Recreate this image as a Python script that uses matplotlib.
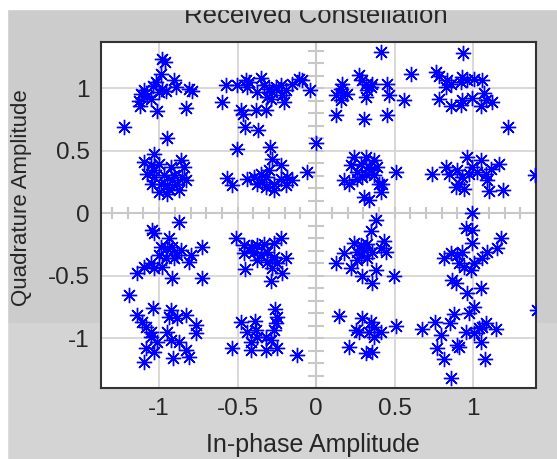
import numpy as np
import matplotlib
matplotlib.use("Agg")
import matplotlib.pyplot as plt
from matplotlib.patches import Rectangle
from matplotlib.markers import MarkerStyle

plt.rcParams['font.family'] = ['Liberation Sans', 'DejaVu Sans']
plt.rcParams['axes.unicode_minus'] = False

# received symbols, grouped by quadrant
# upper left (clusters at -1+1j, -0.3+1j, -1+0.3j, -0.3+0.3j)
ul_i = [-0.98, -0.96, -0.99, -1.02, -1.04, -0.905, -0.89, -0.81, -0.79, -1.097, -1.114,
        -1.075, -1.13, -1.122, -1.012, -0.831, -0.98, -0.958, -1.0, -1.054, -1.224, -0.948,
        -0.576, -0.598, -0.502, -0.449, -0.438, -0.428, -0.354, -0.332, -0.375, -0.3, -0.279,
        -0.258, -0.226, -0.194, -0.215, -0.29, -0.205, -0.152, -0.109, -0.088, -0.039, -0.481,
        -0.464, -0.385, -0.322, -0.455, -0.37, -0.31,
        -1.033, -1.097, -1.054, -1.0, -0.927, -0.863, -0.842, -1.075, -1.033, -0.969, -0.906,
        -0.852, -0.831, -1.044, -0.99, -0.948, -0.884, -1.0, -0.948, -0.937, -0.874, -1.033, -0.916,
        -0.502, -0.294, -0.279, -0.226, -0.57, -0.534, -0.438, -0.396, -0.354, -0.322, -0.375,
        -0.322, -0.269, -0.226, -0.184, -0.152, -0.194, -0.269, -0.06, -0.3, -0.343, -0.003]
ul_q = [1.23, 1.21, 1.117, 1.05, 1.02, 1.064, 1.01, 0.997, 0.98, 0.984, 0.952,
        0.936, 0.899, 0.856, 0.819, 0.845, 0.997, 0.979, 0.97, 0.917, 0.691, 0.605,
        1.024, 0.891, 1.024, 1.064, 1.011, 1.051, 1.085, 1.024, 0.971, 0.997, 0.971,
        1.011, 1.024, 0.984, 0.944, 0.917, 0.891, 1.037, 1.077, 1.069, 0.984, 0.824,
        0.797, 0.824, 0.829, 0.691, 0.669, 0.931,
        0.477, 0.411, 0.384, 0.397, 0.371, 0.424, 0.371, 0.317, 0.291, 0.304, 0.304,
        0.291, 0.269, 0.237, 0.237, 0.224, 0.237, 0.171, 0.157, 0.197, 0.184, 0.344, 0.264,
        0.517, 0.531, 0.437, 0.384, 0.285, 0.224, 0.277, 0.291, 0.317, 0.291, 0.237,
        0.211, 0.237, 0.277, 0.291, 0.264, 0.224, 0.184, 0.331, 0.344, 0.251, 0.563]

# upper right
ur_i = [0.411, 0.602, 0.273, 0.294, 0.315, 0.358, 0.449, 0.167, 0.156, 0.124, 0.167,
        0.199, 0.156, 0.315, 0.326, 0.464, 0.559, 0.124, 0.305, 0.453, 0.347,
        0.937, 0.761, 0.782, 0.835, 0.857, 0.825, 0.931, 0.963, 1.005, 1.058, 0.92,
        0.782, 0.857, 0.92, 0.931, 0.995, 1.069, 1.08, 1.048, 1.122, 1.224,
        0.241, 0.315, 0.368, 0.22, 0.284, 0.337, 0.39, 0.262, 0.315, 0.368, 0.177,
        0.209, 0.262, 0.4, 0.421, 0.411, 0.305, 0.337, 0.506, 0.347, 0.294,
        0.959, 0.74, 0.825, 0.846, 0.899, 0.931, 0.91, 0.942, 0.889, 0.995, 1.048,
        1.027, 1.08, 1.112, 1.165, 1.09, 1.1, 1.192, 1.392, 0.974, 0.995]
ur_q = [1.291, 1.117, 1.104, 1.064, 1.037, 1.037, 1.032, 1.037, 0.997, 0.944, 0.944,
        0.952, 0.909, 0.931, 0.984, 0.944, 0.909, 0.784, 0.757, 0.784, 1.011,
        1.283, 1.131, 1.096, 1.064, 1.037, 1.011, 1.091, 1.069, 1.077, 1.064, 1.051,
        0.917, 0.856, 0.864, 0.909, 0.925, 0.963, 0.904, 0.856, 0.891, 0.691,
        0.451, 0.451, 0.424, 0.384, 0.397, 0.371, 0.371, 0.331, 0.317, 0.304, 0.264,
        0.237, 0.277, 0.237, 0.237, 0.171, 0.131, 0.104, 0.331, 0.344, 0.291,
        0.451, 0.317, 0.371, 0.317, 0.344, 0.291, 0.237, 0.197, 0.211, 0.371, 0.424,
        0.331, 0.317, 0.357, 0.397, 0.264, 0.179, 0.189, 0.304, 0.317, 0.003]

# lower left
ll_i = [-0.874, -1.044, -1.033, -0.937, -0.725, -0.99, -0.948, -0.916, -0.863, -0.799, -0.81,
        -1.0, -0.959, -0.906, -1.054, -1.097, -1.139, -1.033, -0.98, -0.916, -0.725, -1.192, -0.884,
        -0.513, -0.226, -0.46, -0.417, -0.375, -0.332, -0.269, -0.46, -0.396, -0.353, -0.311,
        -0.269, -0.375, -0.311, -0.247, -0.194, -0.215, -0.455, -0.286, -0.407, -0.279,
        -1.037, -1.143, -0.927, -0.937, -0.884, -0.831, -1.107, -1.086, -0.767, -0.767, -1.054,
        -1.054, -0.948, -1.012, -0.927, -0.874, -1.086, -0.831, -0.81, -0.91, -1.097, -1.033,
        -0.264, -0.247, -0.481, -0.392, -0.438, -0.385, -0.322, -0.269, -0.258, -0.29, -0.417,
        -0.534, -0.417, -0.322, -0.252, -0.124, -0.375]
ll_q = [-0.075, -0.136, -0.163, -0.203, -0.269, -0.269, -0.283, -0.269, -0.296, -0.336, -0.389,
        -0.336, -0.363, -0.363, -0.403, -0.429, -0.483, -0.443, -0.429, -0.517, -0.517, -0.656, -0.336,
        -0.203, -0.203, -0.256, -0.269, -0.256, -0.251, -0.243, -0.323, -0.309, -0.336, -0.309,
        -0.349, -0.376, -0.389, -0.403, -0.363, -0.483, -0.448, -0.544, -0.283, -0.443,
        -0.757, -0.816, -0.776, -0.829, -0.843, -0.816, -0.869, -0.909, -0.896, -0.963, -0.949,
        -0.989, -0.949, -1.029, -1.016, -1.029, -1.083, -1.096, -1.149, -1.157, -1.195, -1.109,
        -0.768, -0.829, -0.875, -0.864, -0.949, -0.936, -0.989, -0.936, -0.883, -1.016, -1.029,
        -1.083, -1.096, -1.096, -1.083, -1.136, -0.989]

# lower right
lr_i = [0.379, 0.347, 0.241, 0.284, 0.326, 0.432, 0.177, 0.262, 0.305, 0.358, 0.443,
        0.124, 0.22, 0.262, 0.326, 0.379, 0.294, 0.358, 0.496, 0.411, 0.284,
        0.952, 0.995, 0.995, 1.18, 1.154, 1.09, 1.058, 0.814, 0.857, 0.899, 0.931,
        0.91, 0.942, 0.984, 1.005, 0.867, 0.889, 0.963, 1.048, 1.005, 0.974, 0.878,
        0.145, 0.294, 0.347, 0.252, 0.273, 0.368, 0.411, 0.368, 0.506, 0.209, 0.315, 0.358, 0.337,
        0.672, 0.755, 0.852, 0.793, 0.952, 1.037, 1.058, 1.143, 1.08, 1.048, 0.91,
        0.767, 0.814, 1.073, 0.857, 1.404, 0.899, 1.005]
lr_q = [-0.056, -0.144, -0.243, -0.256, -0.251, -0.224, -0.323, -0.309, -0.296, -0.309, -0.309,
        -0.403, -0.443, -0.376, -0.363, -0.456, -0.501, -0.563, -0.501, -0.283, -0.336,
        -0.123, -0.136, -0.243, -0.197, -0.283, -0.309, -0.363, -0.363, -0.323, -0.336, -0.309,
        -0.403, -0.429, -0.456, -0.403, -0.536, -0.563, -0.643, -0.603, -0.749, -0.803, -0.811,
        -0.821, -0.843, -0.869, -0.936, -0.949, -0.909, -0.949, -0.989, -0.901, -1.069, -1.123, -1.109, -0.949,
        -0.928, -0.869, -0.883, -0.976, -0.955, -0.923, -0.909, -0.928, -0.883, -1.029, -1.069,
        -1.083, -1.168, -1.168, -1.317, -0.776, -1.056, -0.963]

tick_vals = [-1, -0.5, 0, 0.5, 1]
tick_text = ['-1', '-0.5', '0', '0.5', '1']

fig = plt.figure(figsize=(5.57, 4.59), dpi=100, facecolor='#cccccc')
# lighter patch of the screenshot at the bottom, white border at top/left
fig.add_artist(Rectangle((0, 0), 1, 1 - 323 / 459, transform=fig.transFigure,
                         color='#d4d4d4', zorder=-5))
ax = fig.add_axes([101 / 557, 1 - 388 / 459, 435 / 557, 346 / 459])
ax.set_facecolor('white')

i_all = np.concatenate([ul_i, ur_i, ll_i, lr_i])
q_all = np.concatenate([ul_q, ur_q, ll_q, lr_q])
ax.plot(i_all, q_all, linestyle='none', marker=MarkerStyle((8, 2, 0)),
        markersize=11, markeredgewidth=1.0, color='#0000ff', zorder=5)

ax.set_xlim(-1.37, 1.40)
ax.set_ylim(-1.40, 1.37)
ax.set_xticks(tick_vals)
ax.set_xticklabels(tick_text)
ax.set_yticks(tick_vals)
ax.set_yticklabels(tick_text)
ax.tick_params(length=0, labelsize=17.5, colors='#262626')
ax.tick_params(axis='x', pad=7)
ax.tick_params(axis='y', pad=8)
ax.grid(True, color='#d6d6d6', linewidth=1.3)
ax.set_axisbelow(True)
for s in ax.spines.values():
    s.set_color('#333333')
    s.set_linewidth(1.5)

# axis cross through the origin with small ticks every 0.1
ax.axhline(0, color='#c8c8c8', lw=1.5, zorder=1)
ax.axvline(0, color='#c8c8c8', lw=1.5, zorder=1)
minor = np.array([k / 10 for k in range(-14, 15) if k != 0])
ax.vlines(minor, -0.048, 0.048, color='#c8c8c8', lw=1.5, zorder=1)
ax.hlines(minor, -0.05, 0.05, color='#c8c8c8', lw=1.5, zorder=1)

fig.text(316 / 557, 1 - 23 / 459, 'Received Constellation', ha='center', va='baseline',
         fontsize=18.5, color='#262626')
fig.text(313 / 557, 1 - 452 / 459, 'In-phase Amplitude', ha='center', va='baseline',
         fontsize=18, color='#262626')
fig.text(22 / 557, 1 - 198 / 459, 'Quadrature Amplitude', ha='center', va='center',
         rotation=90, fontsize=16, color='#262626')

fig.add_artist(Rectangle((0, 1 - 9 / 459), 1, 9 / 459, transform=fig.transFigure,
                         color='white', zorder=10))
fig.add_artist(Rectangle((0, 0), 7 / 557, 1, transform=fig.transFigure,
                         color='white', zorder=10))

fig.savefig('out.png', dpi=100, facecolor=fig.get_facecolor())
